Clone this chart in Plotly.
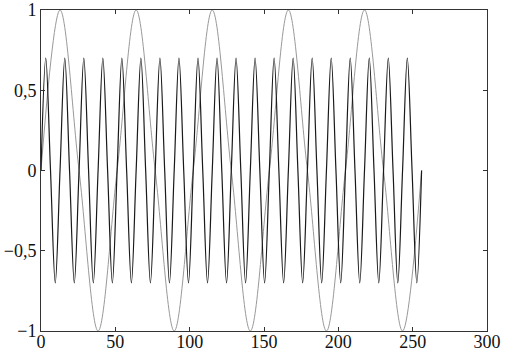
import plotly.graph_objects as go

# Gray wave: extrema / zero crossings (period ~51.2)
gray_x = [0, 12.8, 25.6, 38.4, 51.2, 64.0, 76.8, 89.6, 102.4, 115.2, 128.0,
          140.8, 153.6, 166.4, 179.2, 192.0, 204.8, 217.6, 230.4, 243.2, 256.0]
gray_y = [0, 1, 0, -1, 0, 1, 0, -1, 0, 1, 0, -1, 0, 1, 0, -1, 0, 1, 0, -1, 0]

# Black wave: extrema / zero crossings (period ~12.8)
black_x = [0, 3.2, 6.4, 9.6, 12.8, 16.0, 19.2, 22.4, 25.6, 28.8, 32.0, 35.2,
           38.4, 41.6, 44.8, 48.0, 51.2, 54.4, 57.6, 60.8, 64.0, 67.2, 70.4,
           73.6, 76.8, 80.0, 83.2, 86.4, 89.6, 92.8, 96.0, 99.2, 102.4, 105.6,
           108.8, 112.0, 115.2, 118.4, 121.6, 124.8, 128.0, 131.2, 134.4, 137.6,
           140.8, 144.0, 147.2, 150.4, 153.6, 156.8, 160.0, 163.2, 166.4, 169.6,
           172.8, 176.0, 179.2, 182.4, 185.6, 188.8, 192.0, 195.2, 198.4, 201.6,
           204.8, 208.0, 211.2, 214.4, 217.6, 220.8, 224.0, 227.2, 230.4, 233.6,
           236.8, 240.0, 243.2, 246.4, 249.6, 252.8, 256.0]
black_y = [0, 0.7, 0, -0.7] * 20 + [0]

x_ticks = [0, 50, 100, 150, 200, 250, 300]
x_labels = ["0", "50", "100", "150", "200", "250", "300"]
y_ticks = [-1, -0.5, 0, 0.5, 1]
y_labels = ["\u22121", "\u22120,5", "0", "0,5", "1"]

fig = go.Figure()
fig.add_trace(go.Scatter(x=gray_x, y=gray_y, mode="lines",
                         line=dict(color="#999999", width=1, shape="spline", smoothing=1.0),
                         hoverinfo="skip"))
fig.add_trace(go.Scatter(x=black_x, y=black_y, mode="lines",
                         line=dict(color="#1a1a1a", width=1.2, shape="spline", smoothing=1.0),
                         hoverinfo="skip"))

axis_common = dict(showgrid=False, zeroline=False, showline=True, linecolor="#333",
                   linewidth=1, mirror="ticks", ticks="inside", ticklen=4,
                   tickcolor="#333", automargin=False, ticklabeloverflow="allow",
                   tickfont=dict(family="Liberation Serif", size=18, color="#111"))

fig.update_xaxes(range=[0, 300], tickvals=x_ticks, ticktext=x_labels,
                 ticklabelstandoff=-6, **axis_common)
fig.update_yaxes(range=[-1, 1], tickvals=y_ticks, ticktext=y_labels, **axis_common)

fig.update_layout(width=507, height=353, showlegend=False,
                  margin=dict(l=41, r=20, t=10, b=22),
                  paper_bgcolor="white", plot_bgcolor="white")

fig.write_html("out.html")
